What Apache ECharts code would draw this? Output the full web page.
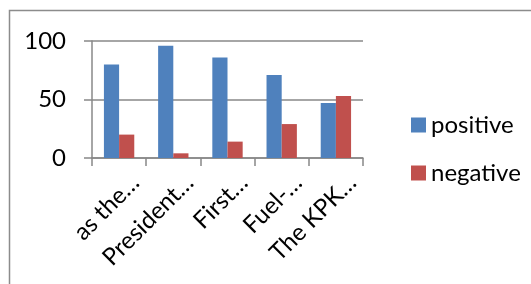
<!DOCTYPE html>
<html>
<head>
<meta charset="utf-8">
<script src="https://cdn.jsdelivr.net/npm/echarts@6/dist/echarts.min.js"></script>
<style>
  html, body { margin: 0; padding: 0; background: #fff; }
  #chart { width: 531px; height: 284px; }
</style>
</head>
<body>
<div id="chart"></div>
<script>
// labels are already cut short in the original picture
var categories = ['as the…', 'President…', 'First…', 'Fuel-…', 'The KPK…'];
var positive = [80, 96, 86, 71, 47];
var negative = [20, 4, 14, 29, 53];
var yMin = 0, yMax = 100, yStep = 50;

var font = 'Lato';
var axisGray = '#888888';

var chart = echarts.init(document.getElementById('chart'));
chart.setOption({
    animation: false,
    graphic: [{
        type: 'rect',
        shape: { x: 9.5, y: 10.5, width: 700, height: 500 },
        style: { fill: 'none', stroke: '#8c8c8c', lineWidth: 1.5 },
        silent: true
    }],
    grid: {
        left: 92,
        top: 41,
        width: 271,
        height: 117
    },
    legend: {
        orient: 'vertical',
        left: 406,
        top: 108,
        itemWidth: 15,
        itemHeight: 15,
        itemGap: 24,
        icon: 'rect',
        data: ['positive', 'negative'],
        textStyle: {
            fontFamily: font,
            fontSize: 24,
            color: '#000'
        }
    },
    xAxis: {
        type: 'category',
        data: categories,
        axisLine: { lineStyle: { color: axisGray, width: 1.5 } },
        axisTick: { show: true, length: 8, alignWithLabel: false, lineStyle: { color: axisGray, width: 1.5 } },
        axisLabel: {
            rotate: 45,
            interval: 0,
            margin: 37,
            fontFamily: font,
            fontSize: 24,
            color: '#000',
            padding: [0, -23, 0, 0]
        }
    },
    yAxis: {
        type: 'value',
        min: yMin,
        max: yMax,
        interval: yStep,
        axisLine: { show: true, lineStyle: { color: axisGray, width: 1.5 } },
        axisTick: { show: true, length: 8, lineStyle: { color: axisGray, width: 1.5 } },
        splitLine: { lineStyle: { color: axisGray, width: 1.5 } },
        axisLabel: {
            margin: 26,
            fontFamily: font,
            fontSize: 24,
            color: '#000'
        }
    },
    series: [
        {
            name: 'positive',
            type: 'bar',
            data: positive,
            barGap: '0%',
            barCategoryGap: '44%',
            itemStyle: { color: '#4f81bd' }
        },
        {
            name: 'negative',
            type: 'bar',
            data: negative,
            itemStyle: { color: '#c0504d' }
        }
    ]
});
</script>
</body>
</html>
